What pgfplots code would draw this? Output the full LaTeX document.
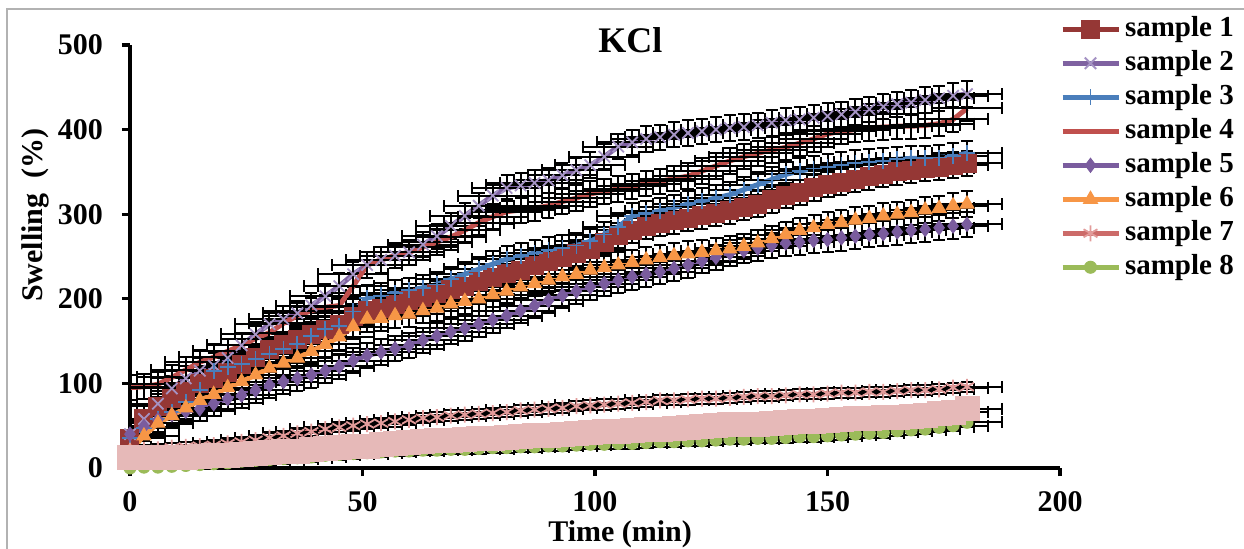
\documentclass[border=0pt]{standalone}
\usepackage{pgfplots}
\pgfplotsset{compat=1.18}
\usepackage{pgfplotstable}
\usepackage{fontspec}
\setmainfont{Liberation Serif}

\definecolor{c1}{HTML}{953735}
\definecolor{c2}{HTML}{7F62A1}
\definecolor{c2m}{HTML}{A593C4}
\definecolor{c3}{HTML}{4A7EBB}
\definecolor{c4}{HTML}{C0504D}
\definecolor{c5}{HTML}{7A5C9E}
\definecolor{c6}{HTML}{F79646}
\definecolor{c7}{HTML}{CC6B69}
\definecolor{c7m}{HTML}{E29B9A}
\definecolor{c8}{HTML}{9BBB59}
\definecolor{c9}{HTML}{E6B9B8}

\pgfplotstableread{
x s1 s2 s3 s4 s5 s6 s7 s8 s9
0 35 40 35 95 40 20 20 0 12
3 58 58 47 96 49 38 21 1 12
6 73 76 58 99 57 53 22 1 13
9 82 94 66 107 63 62 24 2 13
12 91 106 78 116 67 71 25 3 13
15 100 115 92 125 70 80 26 4 14
18 106 121 115 131 76 87 27 5 15
21 113 130 119 138 82 95 29 6 15
24 122 145 123 145 86 102 31 8 16
27 131 158 129 153 92 110 33 9 17
30 140 170 135 160 98 118 36 10 18
33 146 176 141 171 102 124 38 11 19
36 152 183 147 180 106 130 41 12 20
39 158 192 156 186 110 138 43 13 22
42 164 203 164 190 115 146 46 15 23
45 170 215 168 192 120 155 48 16 24
48 179 229 185 215 127 167 50 17 25
51 186 240 201 240 133 176 52 18 26
54 189 246 204 246 137 177 53 19 28
57 193 251 207 251 141 180 55 20 29
60 198 255 210 255 145 182 57 20 30
63 202 264 213 261 151 186 59 21 31
66 206 274 217 267 156 189 60 21 32
69 211 286 223 273 161 194 62 22 33
72 215 298 229 281 165 197 63 22 34
75 220 310 235 290 170 200 64 23 35
78 225 322 241 297 175 205 65 24 35
81 230 331 247 303 180 209 66 24 36
84 234 334 251 305 186 214 68 25 37
87 239 337 254 307 192 218 69 25 38
90 244 340 258 310 198 222 70 26 39
93 249 346 260 315 204 226 71 26 40
96 254 352 263 319 209 229 73 27 41
99 258 358 268 324 214 234 74 28 42
102 266 368 276 327 218 237 75 28 43
105 275 380 285 330 222 240 76 29 43
108 281 385 298 333 226 243 77 29 44
111 286 389 301 336 229 246 78 30 45
114 289 391 304 339 232 249 80 31 46
117 292 394 308 342 236 251 80 31 47
120 295 396 312 345 240 253 81 32 48
123 298 398 316 351 245 255 82 32 49
126 301 400 319 357 249 257 82 33 50
129 304 402 323 363 254 259 83 34 51
132 308 403 329 368 257 262 84 34 52
135 312 405 335 372 260 266 85 35 52
138 317 408 341 376 263 271 85 35 53
141 322 411 347 379 266 276 86 36 54
144 326 412 351 384 267 281 87 37 55
147 331 414 354 389 269 284 87 37 55
150 335 416 356 395 270 288 88 38 56
153 338 418 358 398 272 290 89 39 57
156 341 421 361 400 274 293 89 40 58
159 344 424 362 402 276 295 90 41 59
162 347 427 363 403 277 298 90 42 60
165 350 430 365 404 279 300 91 44 60
168 352 432 366 404 281 302 92 45 61
171 354 435 366 405 282 305 92 46 62
174 355 437 367 407 284 307 93 48 64
177 358 440 369 412 286 310 95 50 66
180 360 442 372 425 288 312 96 54 70
}\data

\pgfplotsset{
  eb/.style={
    error bars/x dir=both, error bars/x fixed=7.5,
    error bars/y dir=both, error bars/y fixed=#1,
    error bars/error bar style={black, line width=1pt, solid},
    error bars/error mark options={black, line width=1pt, mark size=3pt, rotate=90}
  }
}

\begin{document}
\begin{tikzpicture}
\useasboundingbox (-65pt,-40pt) rectangle (557pt,234pt);
\begin{axis}[
  scale only axis,
  width=465pt, height=211.5pt,
  xmin=0, xmax=200, ymin=0, ymax=500,
  xtick={0,50,100,150,200},
  ytick={0,100,200,300,400,500},
  axis x line=bottom, axis y line=left,
  axis line style={line width=2pt, -},
  tick align=outside,
  major tick length=4pt,
  tick style={black, line width=1.6pt},
  ticklabel style={font=\fontsize{15}{17}\selectfont\bfseries},
  /pgf/number format/assume math mode=true,
  xticklabel style={anchor=center, yshift=-13pt},
  yticklabel style={anchor=east, xshift=-6pt},
  xlabel={Time (min)},
  ylabel={Swelling\enspace(\%)},
  label style={font=\fontsize{15}{17}\selectfont\bfseries},
  xlabel style={at={(axis description cs:0.527,-0.156)}, anchor=center},
  ylabel style={at={(axis description cs:-0.102,0.598)}, anchor=center, rotate=0},
  title={KCl},
  title style={at={(axis description cs:0.538,0.983)}, anchor=center, font=\fontsize{18}{20}\selectfont\bfseries},
  legend style={at={(axis description cs:1.0,1.068)}, anchor=north west,
    draw=none, fill=none, inner sep=0pt, outer sep=0pt,
    font=\fontsize{14.5}{17}\selectfont\bfseries,
    row sep=4pt, column sep=2pt,
    nodes={inner sep=0pt, text height=10pt, text depth=3pt}},
  legend cell align=left,
  legend image code/.code={\draw[mark repeat=2, mark phase=2, #1] plot coordinates {(0pt,0pt) (14pt,0pt) (28pt,0pt)};},
]
\addplot[c1, line width=2.5pt, mark=square*, mark size=4.5pt, mark options={solid, fill=c1, draw=c1, line width=0.5pt}, eb=15] table[x=x, y=s1]{\data};
\addlegendentry{sample 1}
\addplot[c2, line width=2.5pt, mark=x, mark size=4pt, mark options={solid, draw=c2m, line width=0.9pt}, eb=15] table[x=x, y=s2]{\data};
\addlegendentry{sample 2}
\addplot[c3, line width=2.5pt, mark=+, mark size=4pt, mark options={solid, draw=c3, line width=0.9pt}, eb=15] table[x=x, y=s3]{\data};
\addlegendentry{sample 3}
\addplot[c4, line width=2.5pt, mark=none, eb=15] table[x=x, y=s4]{\data};
\addlegendentry{sample 4}
\addplot[c5, line width=2.5pt, mark=diamond*, mark size=3.5pt, mark options={solid, fill=c5, draw=c5, line width=0.5pt}, eb=15] table[x=x, y=s5]{\data};
\addlegendentry{sample 5}
\addplot[c6, line width=2.5pt, mark=triangle*, mark size=4pt, mark options={solid, fill=c6, draw=c6, line width=0.5pt}, eb=15] table[x=x, y=s6]{\data};
\addlegendentry{sample 6}
\addplot[c7, line width=2.5pt, mark=asterisk, mark size=4pt, mark options={solid, draw=c7m, line width=0.9pt}, eb=6] table[x=x, y=s7]{\data};
\addlegendentry{sample 7}
\addplot[c8, line width=2.5pt, mark=*, mark size=3pt, mark options={solid, fill=c8, draw=c8, line width=0.5pt}, eb=6] table[x=x, y=s8]{\data};
\addlegendentry{sample 8}
\addplot[c9, line width=2.5pt, mark=square*, mark size=6pt, mark options={solid, fill=c9, draw=c9, line width=0.5pt}, eb=6, forget plot] table[x=x, y=s9]{\data};
\end{axis}
\draw[gray!60, line width=0.8pt] (-61.5pt,-41pt) -- (-61.5pt,229.5pt) -- (558pt,229.5pt);
\end{tikzpicture}
\end{document}
